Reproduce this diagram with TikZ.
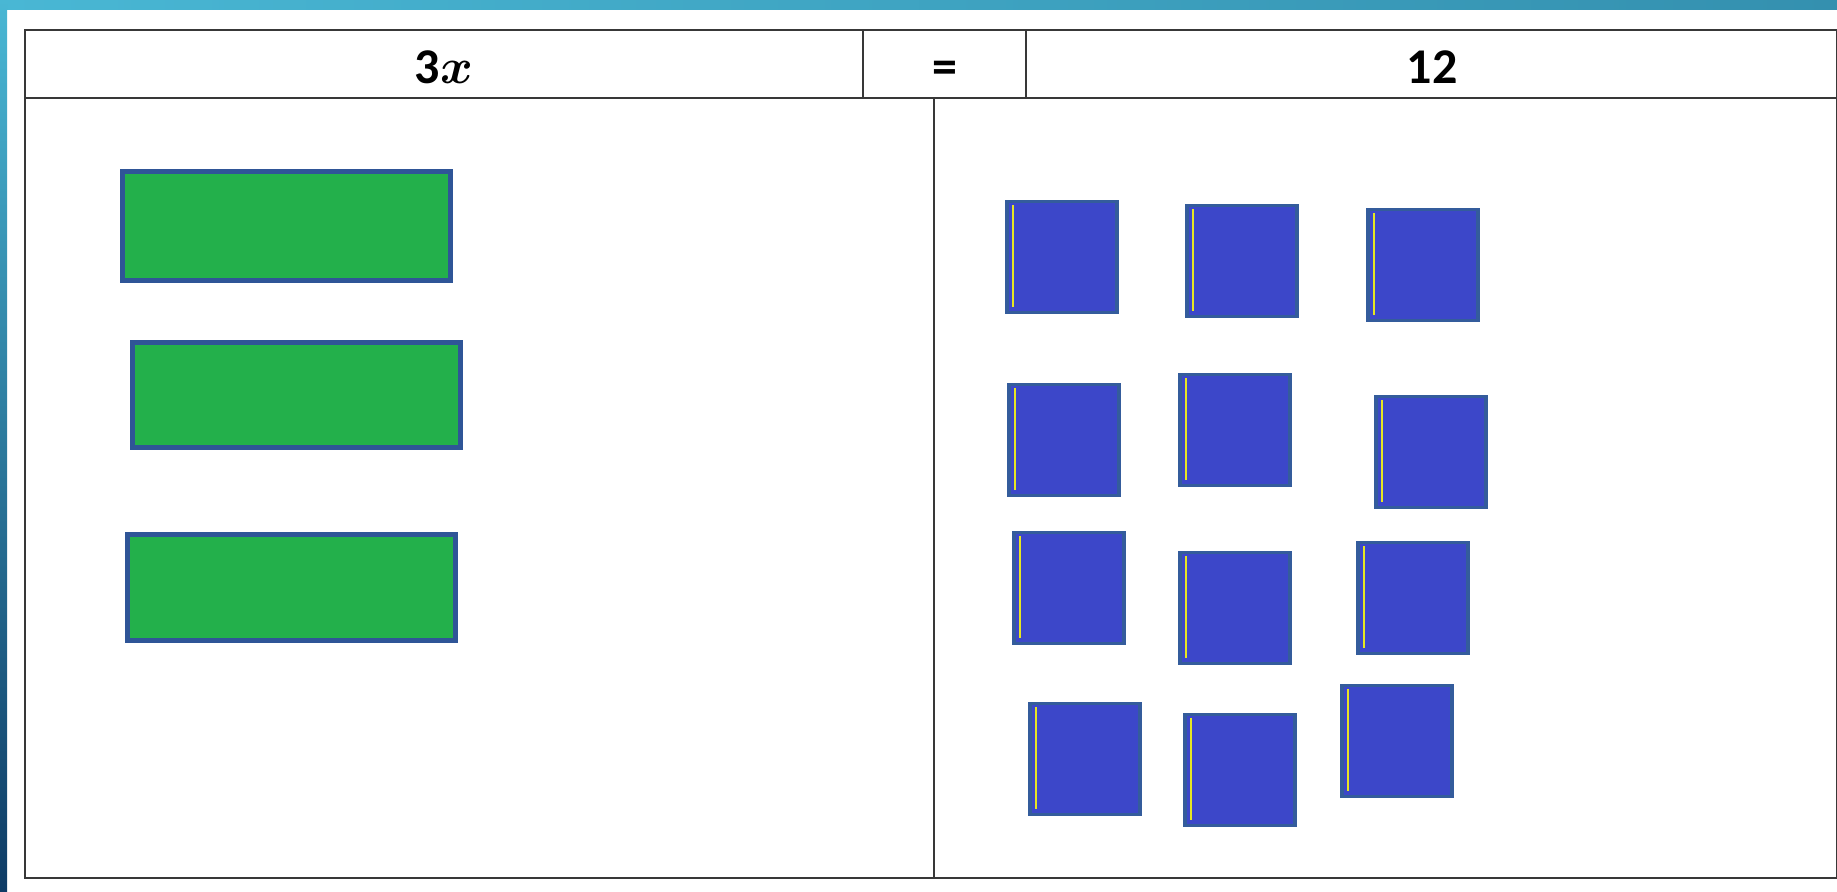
\documentclass[tikz,border=0pt]{standalone}
\usepackage{fontspec}
\setmainfont{Carlito}

\definecolor{gruen}{HTML}{23B04B}
\definecolor{randblau}{HTML}{2F5597}
\definecolor{kachelblau}{HTML}{3C47C9}
\definecolor{kachelrand}{HTML}{345C9C}
\definecolor{gelb}{HTML}{E6E622}
\definecolor{tuerkis}{HTML}{49B7D4}
\definecolor{petrol}{HTML}{3490AF}
\definecolor{nachtblau}{HTML}{0E3B65}

\begin{document}
\begin{tikzpicture}[x=0.5pt, y=-0.5pt,
    linie/.style={draw=black!78, line width=1.2pt},
    kopf/.style={font=\fontsize{25}{30}\selectfont\bfseries, anchor=base, inner sep=0pt},
    balken/.style={draw=randblau, fill=gruen, line width=2.5pt, minimum width=164pt, inner sep=0pt},
    kachel/.style={draw=kachelrand, fill=kachelblau, line width=1.6pt, minimum width=55pt, minimum height=55.5pt, inner sep=0pt},
    gelbstrich/.style={draw=gelb, line width=1pt}]
    \useasboundingbox (0,0) rectangle (1837,891);
    %Rahmen (Farbverlauf)
    \shade[left color=tuerkis, right color=petrol] (0,0) rectangle (1837,9);
    \shade[top color=tuerkis, bottom color=nachtblau] (0,0) rectangle (7,891);
    % Tabelle zeichnen
    \draw[linie] (25,30) rectangle (1837,878);
    \draw[linie] (25,98) -- (1837,98);
    \draw[linie] (863,30) -- (863,98);
    \draw[linie] (1026,30) -- (1026,98);
    \draw[linie] (934,98) -- (934,878);
    % Kopfzeile
    \node[kopf] (links) at (444,83) {3{\boldmath$x$}};
    \node[kopf] (gleich) at (944.5,83) {=};
    \node[kopf] (rechts) at (1432,83) {12};
    % x-Balken
    \foreach \n/\cx/\cy/\h in {1/286.5/225.5/54.5, 2/296.5/395/52.5, 3/291.5/587.5/53}
        \node[balken, minimum height=\h pt] (x\n) at (\cx,\cy) {};
    % Einerkacheln
    \foreach \n/\cx/\cy in {a/1062/257, b/1242/261, c/1423/265,
                            d/1064/440, e/1235/430, f/1431/452,
                            g/1069/588, h/1235/608, i/1413/598,
                            j/1085/759, k/1240/770, l/1397/741}
    {
        \node[kachel] (q\n) at (\cx,\cy) {};
        \draw[gelbstrich] ([shift={(8,5)}]q\n.north west) -- ([shift={(8,-7)}]q\n.south west);
    }
\end{tikzpicture}
\end{document}
